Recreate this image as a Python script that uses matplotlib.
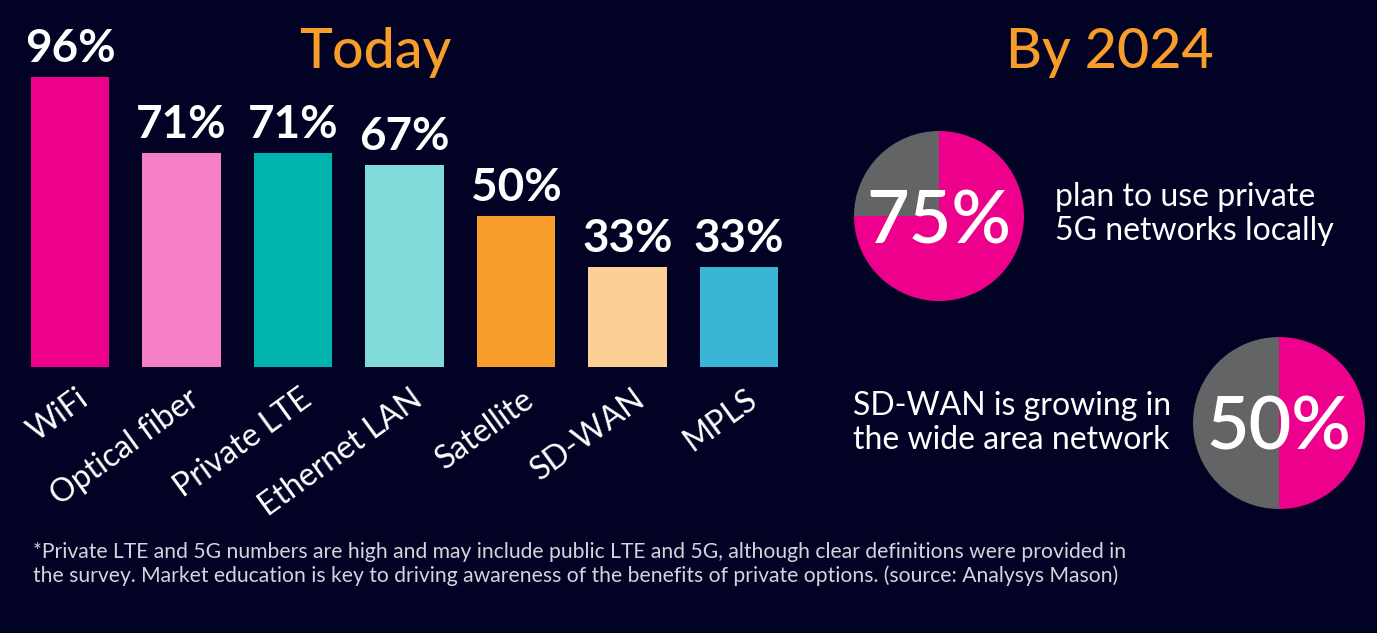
import matplotlib
matplotlib.use("Agg")
import matplotlib.pyplot as plt
from matplotlib.transforms import offset_copy

# ---- data ----
categories = ["WiFi", "Optical fiber", "Private LTE", "Ethernet LAN", "Satellite", "SD-WAN", "MPLS"]
values = [96, 71, 71, 67, 50, 33, 33]
bar_colors = ["#EC008C", "#F47FC4", "#00B3AD", "#80DAD7", "#F89D2C", "#FCCF95", "#3AB5D5"]
value_labels = ["96%", "71%", "71%", "67%", "50%", "33%", "33%"]

pie1_values = [75, 25]
pie1_label = "75%"
pie1_text = "plan to use private\n5G networks locally"
pie2_values = [50, 50]
pie2_label = "50%"
pie2_text = "SD-WAN is growing in\nthe wide area network"
pie_colors = ["#EC008C", "#636466"]

title_left = "Today"
title_right = "By 2024"
footnote = ("*Private LTE and 5G numbers are high and may include public LTE and 5G, although clear definitions were provided in\n"
            "the survey. Market education is key to driving awareness of the benefits of private options. (source: Analysys Mason)")

BG = "#020224"
ORANGE = "#F89D2A"
FONT = ["Lato", "DejaVu Sans"]

W, H = 1377, 633
fig = plt.figure(figsize=(W / 100, H / 100), dpi=100, facecolor=BG)


def fx(px):
    return px / W


def fy(py):
    return 1 - py / H


# ---- bar chart ----
bottom_px, px_per_unit = 367, 3.02
ax_h = 100 * px_per_unit
step = 111.5
ax_left = 70 - 0.5 * step
ax = fig.add_axes([fx(ax_left), fy(bottom_px), (7 * step) / W, ax_h / H])
ax.set_facecolor(BG)
x = list(range(len(categories)))
ax.bar(x, values, width=0.7, color=bar_colors)
ax.set_xlim(-0.5, 6.5)
ax.set_ylim(0, 100)
ax.axis("off")

for xi, v, lab in zip(x, values, value_labels):
    ax.annotate(lab, (xi, v), xytext=(0, 5), textcoords="offset points",
                ha="center", va="bottom", color="white", fontsize=33,
                fontweight="bold", family=FONT)

for xi, cat in zip(x, categories):
    tr = offset_copy(ax.transData, fig=fig, x=6, y=-17, units="dots")
    ax.text(xi, 0, cat, transform=tr, rotation=36, rotation_mode="anchor",
            ha="right", va="top", color="white", fontsize=23, family=FONT,
            clip_on=False)

# ---- titles ----
fig.text(fx(375), fy(68), title_left, ha="center", va="baseline",
         color=ORANGE, fontsize=40, family=FONT, fontweight="medium")
fig.text(fx(1110), fy(68), title_right, ha="center", va="baseline",
         color=ORANGE, fontsize=40, family=FONT, fontweight="medium")


# ---- pies ----
def make_pie(cx, cy, r, vals, label):
    pax = fig.add_axes([fx(cx - r), fy(cy + r), 2 * r / W, 2 * r / H])
    pax.pie(vals, colors=pie_colors, startangle=90, counterclock=False,
            wedgeprops=dict(linewidth=0))
    pax.set_xlim(-1, 1)
    pax.set_ylim(-1, 1)
    pax.set_aspect("equal")
    pax.axis("off")
    pax.text(0, 0, label, ha="center", va="center_baseline", color="white",
             fontsize=53, family=FONT, fontweight="semibold")
    return pax


make_pie(939, 216, 85, pie1_values, pie1_label)
make_pie(1279, 423, 86, pie2_values, pie2_label)

fig.text(fx(1055), fy(214), pie1_text, ha="left", va="center", color="white",
         fontsize=23, family=FONT, linespacing=1.2)
fig.text(fx(853), fy(423), pie2_text, ha="left", va="center", color="white",
         fontsize=23, family=FONT, linespacing=1.2)

# ---- footnote ----
fig.text(fx(33), fy(564), footnote, ha="left", va="center", color="#D4D4DC",
         fontsize=15.2, family=FONT, linespacing=1.2)

fig.savefig("out.png", dpi=100, facecolor=BG)
